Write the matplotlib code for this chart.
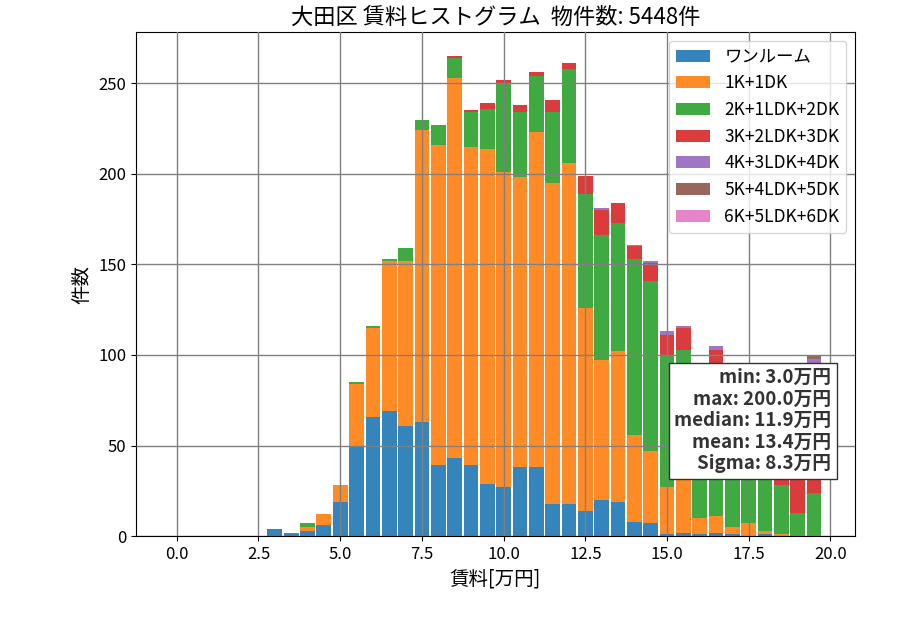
import matplotlib
matplotlib.use('Agg')
import matplotlib.pyplot as plt
import numpy as np

plt.rcParams['font.family'] = ['Noto Sans CJK JP', 'DejaVu Sans']

# 賃料ビン (左端, 万円) 0.0 ~ 19.5
bin_left = np.arange(0, 20, 0.5)
pad = [0] * 6  # 0.0 - 2.5 は空

labels = ['ワンルーム', '1K+1DK', '2K+1LDK+2DK', '3K+2LDK+3DK',
          '4K+3LDK+4DK', '5K+4LDK+5DK', '6K+5LDK+6DK']

one_room = pad + [4, 1, 3, 6, 19, 50, 66, 69, 61, 63,
                  39, 43, 39, 29, 27, 38, 38, 18, 18, 14,
                  20, 19, 8, 7, 1, 2, 1, 2, 1, 0,
                  1, 0, 0, 0]
k1 = pad + [0, 0, 2, 6, 9, 34, 49, 83, 91, 161,
            177, 210, 176, 185, 174, 160, 185, 177, 188, 112,
            77, 83, 48, 40, 26, 45, 9, 9, 4, 7,
            2, 1, 0, 0]
k2 = pad + [0, 1, 2, 0, 0, 1, 1, 1, 7, 6,
            11, 11, 19, 22, 49, 36, 31, 39, 52, 63,
            69, 71, 97, 94, 73, 56, 72, 77, 65, 60,
            55, 27, 13, 24]
k3 = pad + [0, 0, 0, 0, 0, 0, 0, 0, 0, 0,
            0, 1, 1, 3, 2, 4, 2, 7, 3, 10,
            14, 11, 7, 10, 11, 12, 8, 15, 12, 10,
            12, 30, 40, 70]
k4 = pad + [0] * 20 + [1, 0, 1, 1, 2, 1, 1, 2, 1, 1] + [1, 1, 1, 4]
k5 = pad + [0] * 33 + [2]
k6 = pad + [0] * 34

series = [one_room, k1, k2, k3, k4, k5, k6]
colors = plt.get_cmap('tab10').colors[:7]

fig = plt.figure(figsize=(9, 6.3), dpi=100)
ax = fig.add_axes([0.151, 0.149, 0.799, 0.80])

bottom = np.zeros(len(bin_left))
for vals, lab, c in zip(series, labels, colors):
    vals = np.array(vals)
    ax.bar(bin_left, vals, width=0.45, bottom=bottom, color=c, alpha=0.9, label=lab)
    bottom += vals

ax.set_xlim(-1.25, 20.75)
ax.set_ylim(0, bottom.max() * 1.05)
ax.set_axisbelow(False)
ax.grid(True, color='gray', linewidth=1)

ax.set_title('大田区 賃料ヒストグラム  物件数: 5448件', fontsize=16)
ax.set_xlabel('賃料[万円]', fontsize=14)
ax.set_ylabel('件数', fontsize=14)
ax.tick_params(labelsize=12)
ax.legend(loc='upper right', fontsize=12.5)

stats = 'min: 3.0万円\nmax: 200.0万円\nmedian: 11.9万円\nmean: 13.4万円\nSigma: 8.3万円'
ax.text(0.967, 0.333, stats, transform=ax.transAxes, ha='right', va='top',
        fontsize=13.5, fontweight='bold', color='#333333', linespacing=1.16,
        bbox=dict(boxstyle='square,pad=0.3', facecolor='white', edgecolor='#333333'))

fig.savefig('out.png')
